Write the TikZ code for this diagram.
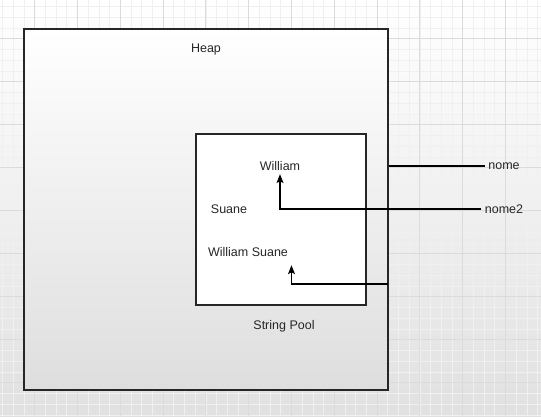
\documentclass[tikz,border=0pt]{standalone}
\usepackage{fontspec}
\setmainfont{Liberation Sans}
\usetikzlibrary{arrows.meta}

\begin{document}
\begin{tikzpicture}[x=1pt, y=1pt, node distance=43pt, auto,
  box/.style={draw=black!85, line width=1.2pt, fill=white, inner sep=0pt},
  lbl/.style={font=\fontsize{12.5}{15}\selectfont, text=black!85},
  >={Stealth[length=9pt,width=7pt,inset=2pt]}]
\useasboundingbox (0,0) rectangle (541,416);
\shade[top color=white, bottom color=black!12] (0,0) rectangle (541,416);
\draw[black!6, xstep=10.7pt, ystep=10.75pt, shift={(34.5,33.4)}] (-34.5,-33.4) grid (506.5,382.6);
\draw[black!14, line width=0.8pt, xstep=42.8pt, ystep=43pt, shift={(34.5,33.4)}] (-34.5,-33.4) grid (506.5,382.6);
\node[box, minimum width=364pt, minimum height=361pt, top color=white, bottom color=black!13] (heap) at (206,206.5) {};
\node[box, minimum width=170pt, minimum height=171pt] (pool) at (281,196.5) {};
\node[lbl] (H) at (206,367) {Heap};
\node[lbl] (SP) at (284,90) {String Pool};
\node[lbl] (W) at (280,250) {William};
\node[lbl] (S) at (229,207) {Suane};
\node[lbl, minimum width=86pt, minimum height=26pt] (WS) at (248,164) {William Suane};
\node[lbl] (nome) at (504,250) {nome};
\node[lbl] (nome2) [below of=nome] {nome2};
\coordinate (r) at (388,132);
\draw[line width=1.2pt] (heap.east |- nome) to node {} (nome);
\draw[->, line width=1.2pt] (nome2) -| (W);
\draw[->, line width=1.2pt] (r) -| (WS.south east);
\end{tikzpicture}
\end{document}
